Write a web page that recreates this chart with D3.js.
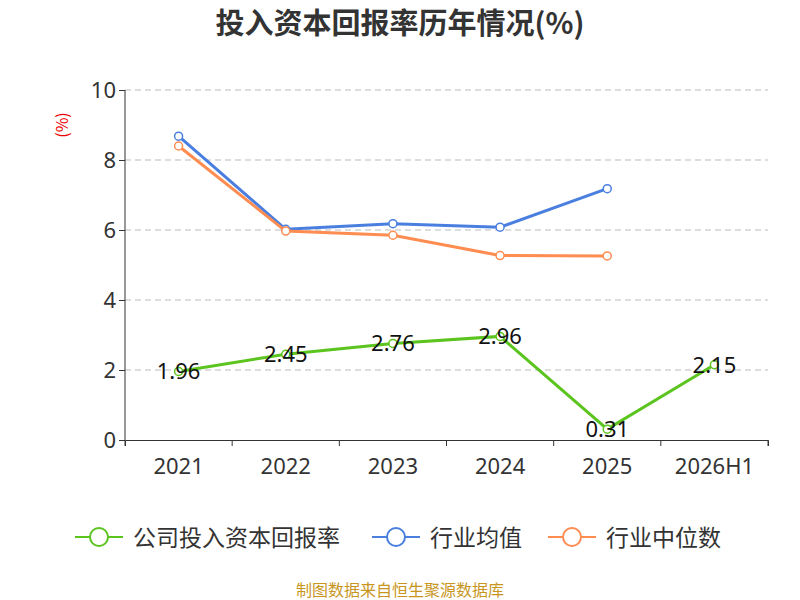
<!DOCTYPE html>
<html><head><meta charset="utf-8">
<script src="https://cdn.jsdelivr.net/npm/d3@7"></script>
<style>body{margin:0;background:#fff;font-family:"Noto Sans CJK SC","Noto Sans",sans-serif}</style>
</head><body><svg id="chart" width="800" height="600"></svg>
<script>
var years = ['2021','2022','2023','2024','2025','2026H1'];
var company = [1.96,2.45,2.76,2.96,0.31,2.15];
var industryAvg = [8.68,6.02,6.18,6.08,7.18];
var industryMid = [8.40,5.97,5.85,5.27,5.26];

var svg = d3.select('#chart');
var x = d3.scaleBand().domain(years).range([125,768]);
var y = d3.scaleLinear().domain([0,10]).range([440,90]);
var cx = d => x(d) + x.bandwidth()/2;

svg.append('text').attr('x',400).attr('y',34).attr('text-anchor','middle')
  .attr('font-size',29).attr('font-weight','bold').attr('fill','#333').text('投入资本回报率历年情况(%)');

//grid
[2,4,6,8,10].forEach(v => {
  svg.append('line').attr('x1',125).attr('x2',768).attr('y1',y(v)).attr('y2',y(v))
    .attr('stroke','#bbb').attr('stroke-dasharray','6,4');
});
var yAxis = svg.append('g').attr('transform','translate(125,0)').call(d3.axisLeft(y).ticks(5).tickSize(6));
var xAxis = svg.append('g').attr('transform','translate(0,440)').call(d3.axisBottom(x).tickSize(6));
xAxis.selectAll('.tick line').attr('transform','translate(' + (-x.bandwidth()/2) + ',0)');
xAxis.append('line').attr('x1',768).attr('x2',768).attr('y1',0).attr('y2',6).attr('stroke','#333');
[yAxis,xAxis].forEach(a => {
  a.selectAll('path,line').attr('stroke','#333');
  a.selectAll('text').attr('font-size',22).attr('fill','#333').attr('font-family','"Noto Sans",sans-serif');
});
yAxis.select('.domain').attr('d','M0,440V90');
xAxis.selectAll('text').attr('dy','1.15em');
svg.append('text').attr('transform','translate(68,125) rotate(-90)').attr('text-anchor','middle')
  .attr('font-size',16).attr('fill','#e00').text('(%)');

var line = d3.line().x(d => cx(d[0])).y(d => y(d[1]));
function series(vals, color){
  var pts = vals.map((v,i) => [years[i], v]);
  svg.append('path').datum(pts).attr('d',line).attr('fill','none').attr('stroke',color).attr('stroke-width',3);
  svg.selectAll(null).data(pts).enter().append('circle')
    .attr('cx',d => cx(d[0])).attr('cy',d => y(d[1])).attr('r',4)
    .attr('fill','#fff').attr('stroke',color).attr('stroke-width',1.5);
}
series(industryAvg,'#4a7fe0');
series(industryMid,'#ff8c50');
series(company,'#5cc41f');
svg.selectAll(null).data(company).enter().append('text')
  .attr('x',(d,i) => cx(years[i])).attr('y',d => y(d)+8).attr('text-anchor','middle')
  .attr('font-size',22).attr('fill','#111').attr('font-family','"Noto Sans",sans-serif').text(d => d.toFixed(2));

//legend
var legend = [['公司投入资本回报率','#5cc41f',75],['行业均值','#4a7fe0',372],['行业中位数','#ff8c50',548]];
legend.forEach(l => {
  var g = svg.append('g').attr('transform','translate(' + l[2] + ',537)');
  g.append('line').attr('x1',0).attr('x2',48).attr('stroke',l[1]).attr('stroke-width',2);
  g.append('circle').attr('cx',24).attr('r',9).attr('fill','#fff').attr('stroke',l[1]).attr('stroke-width',2);
  g.append('text').attr('x',58).attr('y',9).attr('font-size',23).attr('fill','#333').text(l[0]);
});
svg.append('text').attr('x',400).attr('y',596).attr('text-anchor','middle')
  .attr('font-size',16).attr('fill','#c8961e').text('制图数据来自恒生聚源数据库');
</script></body></html>
